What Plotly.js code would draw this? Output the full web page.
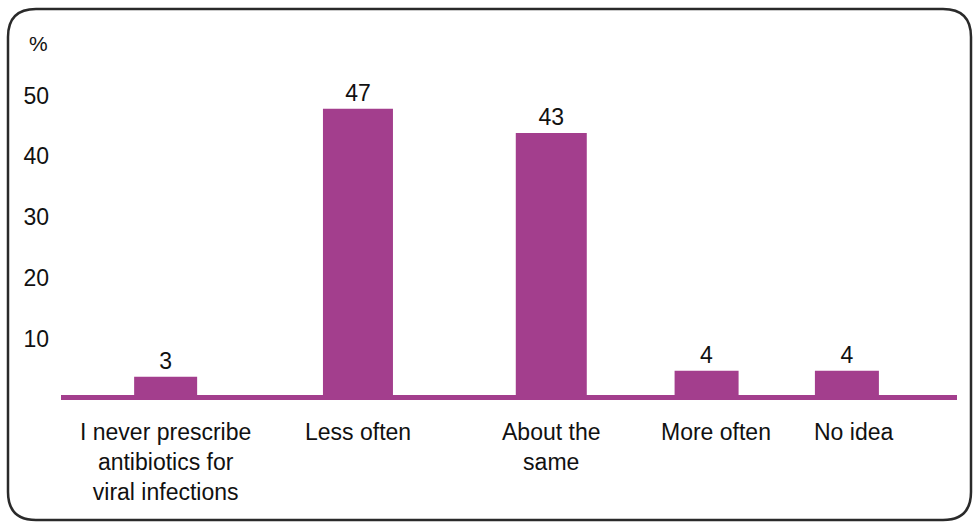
<!DOCTYPE html>
<html>
<head>
<meta charset="utf-8">
<script src="https://cdn.plot.ly/plotly-3.0.1.min.js"></script>
<style>
html,body{margin:0;padding:0;background:#fff;}
#chart{width:978px;height:525px;}
</style>
</head>
<body>
<div id="chart"></div>
<script>
// ---- data ----
var categories = [
  "I never prescribe<br>antibiotics for<br>viral infections",
  "Less often",
  "About the<br>same",
  "More often",
  "No idea"
];
var values = [3, 47, 43, 4, 4];
var valueLabels = ["3", "47", "43", "4", "4"];
var yTickVals = [10, 20, 30, 40, 50];
var yTickText = ["10", "20", "30", "40", "50"];
var unitLabel = "%";

// ---- style ----
var barColor = "#A33E8D";
var W = 978, H = 525;
var M = {l: 61, r: 21, t: 60, b: 130};
var plotW = W - M.l - M.r, plotH = H - M.t - M.b;
var xRange = [-0.71, 4.52];
var unitPx = plotW / (xRange[1] - xRange[0]);
// per-bar layout tweaks (pixels): bar widths, bar shifts and label shifts
var barWidthPx = [63, 70, 71, 64, 64];
var barShiftPx = [-17, 4, 26, 10, -21];
var labelShiftPx = [-17, 4, 26, 19, -14];
var barWidths = barWidthPx.map(function(w){ return w / unitPx; });
var barOffsets = barWidthPx.map(function(w, i){ return (barShiftPx[i] - w / 2) / unitPx; });

function px(x){ return (x - M.l) / plotW; }
function py(y){ return (H - M.b - y) / plotH; }

// rounded frame (pixel geometry converted to paper coordinates)
var fl = 8, fr = 971, ft = 9, fb = 520, rad = 28;
var framePath =
  "M " + px(fl + rad) + "," + py(ft) +
  " L " + px(fr - rad) + "," + py(ft) +
  " Q " + px(fr) + "," + py(ft) + " " + px(fr) + "," + py(ft + rad) +
  " L " + px(fr) + "," + py(fb - rad) +
  " Q " + px(fr) + "," + py(fb) + " " + px(fr - rad) + "," + py(fb) +
  " L " + px(fl + rad) + "," + py(fb) +
  " Q " + px(fl) + "," + py(fb) + " " + px(fl) + "," + py(fb - rad) +
  " L " + px(fl) + "," + py(ft + rad) +
  " Q " + px(fl) + "," + py(ft) + " " + px(fl + rad) + "," + py(ft) + " Z";

var fam = "Liberation Sans, Arial, sans-serif";

var trace = {
  type: "bar",
  x: categories,
  y: values,
  width: barWidths,
  offset: barOffsets,
  marker: {color: barColor, line: {width: 0}},
  text: valueLabels,
  textposition: "outside",
  textfont: {family: fam, size: 23, color: "#111"},
  cliponaxis: false,
  hoverinfo: "none"
};

var annotations = [{
  text: unitLabel,
  xref: "paper", yref: "paper",
  x: px(38), y: py(43),
  xanchor: "center", yanchor: "middle",
  showarrow: false,
  font: {family: fam, size: 21, color: "#111"}
}];
categories.forEach(function(c, i){
  annotations.push({
    text: c,
    xref: "x", yref: "paper",
    x: c, y: py(417),
    xanchor: "center", yanchor: "top",
    xshift: labelShiftPx[i],
    align: "center",
    showarrow: false,
    font: {family: fam, size: 23, color: "#111"}
  });
});

var layout = {
  width: W, height: H,
  margin: M,
  paper_bgcolor: "#fff",
  plot_bgcolor: "#fff",
  font: {family: fam, size: 22, color: "#111"},
  showlegend: false,
  xaxis: {
    type: "category",
    range: xRange,
    showline: true, linecolor: barColor, linewidth: 5,
    showgrid: false, zeroline: false,
    ticks: "",
    showticklabels: false,
    fixedrange: true
  },
  yaxis: {
    range: [0, 55],
    tickvals: yTickVals,
    ticktext: yTickText,
    showline: false, showgrid: false, zeroline: false,
    ticks: "",
    tickfont: {family: fam, size: 23, color: "#111"},
    ticklabelshift: 5,
    ticklabelstandoff: 11,
    fixedrange: true
  },
  annotations: annotations,
  shapes: [{
    type: "path",
    xref: "paper", yref: "paper",
    path: framePath,
    line: {color: "#2a2a2a", width: 2.5},
    fillcolor: "rgba(0,0,0,0)",
    layer: "above"
  }]
};

Plotly.newPlot("chart", [trace], layout, {displayModeBar: false, staticPlot: true});
</script>
</body>
</html>
